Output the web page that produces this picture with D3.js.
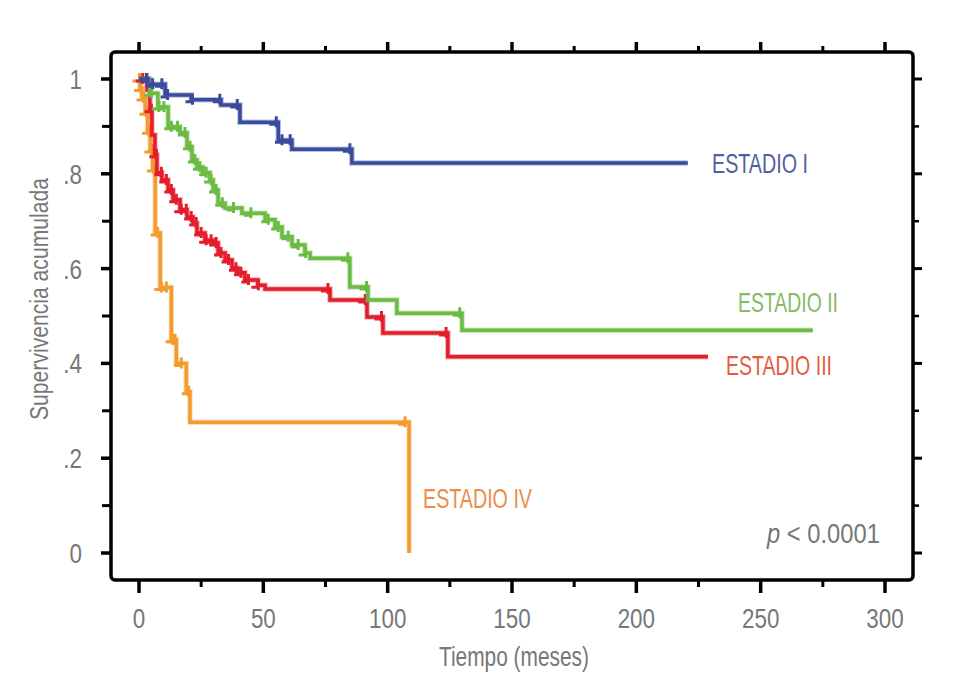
<!DOCTYPE html>
<html lang="es">
<head>
<meta charset="utf-8">
<title>Supervivencia acumulada por estadio</title>
<script src="https://cdn.jsdelivr.net/npm/d3@7/dist/d3.min.js"></script>
<style>
  body { margin: 0; background: #fff; }
  text { font-family: "Liberation Sans", Arial, sans-serif; }
</style>
</head>
<body>
<script>
// Datos (meses, supervivencia)
var xTicks = [0, 50, 100, 150, 200, 250, 300];
var yTicks = [0, 0.2, 0.4, 0.6, 0.8, 1];
var yTickLabels = ["0", ".2", ".4", ".6", ".8", "1"];

var est1Times = [0, 3.6, 10.5, 21, 33, 40.6, 56, 61.5, 85.6, 220.7];
var est1Surv  = [1, 0.989, 0.966, 0.956, 0.945, 0.909, 0.871, 0.852, 0.823, 0.823];
var est1Cens  = [3.2, 5.5, 9.2, 11.5, 21.5, 32.5, 39.5, 55.2, 57.5, 60.8, 84.8];

var est2Times = [0, 4.4, 7.6, 11.7, 16.5, 19.3, 21.3, 23.3, 25.7, 28.5, 29.8, 31.8, 34.6, 41.4, 50.7, 54.7, 57.5, 61.5, 66.7, 68.8, 84.8, 92.1, 103.7, 129.9, 271];
var est2Surv  = [1, 0.970, 0.941, 0.899, 0.886, 0.857, 0.829, 0.814, 0.802, 0.787, 0.766, 0.738, 0.728, 0.717, 0.703, 0.688, 0.667, 0.650, 0.633, 0.622, 0.561, 0.534, 0.506, 0.470, 0.470];
var est2Cens  = [5, 8, 10, 13, 15.5, 18.5, 20.5, 22.5, 24.5, 27, 29, 31, 33.5, 38, 45, 52, 56, 60, 64, 67, 84, 91.5, 129];

var est3Times = [0, 3.2, 4.4, 5.2, 6.4, 7.2, 9.2, 11.7, 13.7, 16.5, 19.3, 21.7, 23.3, 26.5, 29.8, 31.8, 34.6, 37.4, 39.8, 42.6, 47.8, 50.7, 76.8, 91.7, 98.1, 124.2, 228.8];
var est3Surv  = [1, 0.977, 0.935, 0.882, 0.840, 0.802, 0.787, 0.766, 0.745, 0.724, 0.709, 0.696, 0.675, 0.660, 0.654, 0.633, 0.618, 0.601, 0.591, 0.576, 0.565, 0.557, 0.534, 0.498, 0.464, 0.414, 0.414];
var est3Cens  = [1.5, 3, 5, 7, 9, 11, 13, 15, 17, 19, 21, 23, 25, 27, 29, 31, 33, 36, 39, 41, 44, 48, 76, 91, 97.5, 123.5];

var est4Times = [0, 0.4, 1.2, 2.5, 3.5, 4.5, 5.5, 6.5, 8.5, 13, 15, 19, 20.5, 108.6];
var est4Surv  = [1, 0.98, 0.96, 0.93, 0.89, 0.85, 0.81, 0.675, 0.56, 0.45, 0.40, 0.34, 0.276, 0];
var est4Cens  = [0.2, 0.8, 1.8, 3, 4, 5, 6, 7.5, 9, 11, 13.5, 14.5, 17, 20, 107];

var series = [
  { name: "ESTADIO I",   times: est1Times, surv: est1Surv, cens: est1Cens, color: "#3a4b9e", label: "#52609c" },
  { name: "ESTADIO II",  times: est2Times, surv: est2Surv, cens: est2Cens, color: "#6bbb45", label: "#85ba66" },
  { name: "ESTADIO III", times: est3Times, surv: est3Surv, cens: est3Cens, color: "#e31d2b", label: "#e25c42" },
  { name: "ESTADIO IV",  times: est4Times, surv: est4Surv, cens: est4Cens, color: "#f39c2e", label: "#ec8c4c" }
];

var width = 958, height = 695;
var frameL = 111, frameR = 913, frameT = 52, frameB = 580;

var svg = d3.select("body").append("svg")
  .attr("width", width)
  .attr("height", height);

svg.append("rect").attr("width", width).attr("height", height).attr("fill", "#fff");

var x = d3.scaleLinear().domain([0, 300]).range([139, 885]);
var y = d3.scaleLinear().domain([0, 1]).range([553, 79]);

// marco con esquinas redondeadas
svg.append("rect")
  .attr("x", frameL).attr("y", frameT)
  .attr("width", frameR - frameL).attr("height", frameB - frameT)
  .attr("rx", 4)
  .attr("fill", "none")
  .attr("stroke", "#000")
  .attr("stroke-width", 3.5);

// marcas del eje (mayores y menores)
var xMinor = d3.range(25, 300, 50);
var yMinor = d3.range(0.1, 1, 0.2);

function tickGroup(vals, fn, len, w) {
  svg.append("g").selectAll("line").data(vals).enter().append("line")
    .each(function (d) { fn(d3.select(this), d, len); })
    .attr("stroke", "#000")
    .attr("stroke-width", w);
}
tickGroup(xTicks, function (s, d, l) { s.attr("x1", x(d)).attr("x2", x(d)).attr("y1", frameB).attr("y2", frameB + l); }, 13, 3.5);
tickGroup(xMinor, function (s, d, l) { s.attr("x1", x(d)).attr("x2", x(d)).attr("y1", frameB).attr("y2", frameB + l); }, 7, 3);
tickGroup(xTicks, function (s, d, l) { s.attr("x1", x(d)).attr("x2", x(d)).attr("y1", frameT).attr("y2", frameT - l); }, 10, 3.5);
tickGroup(xMinor, function (s, d, l) { s.attr("x1", x(d)).attr("x2", x(d)).attr("y1", frameT).attr("y2", frameT - l); }, 6, 3);
tickGroup(yTicks, function (s, d, l) { s.attr("y1", y(d)).attr("y2", y(d)).attr("x1", frameL).attr("x2", frameL - l); }, 10, 3.5);
tickGroup(yMinor, function (s, d, l) { s.attr("y1", y(d)).attr("y2", y(d)).attr("x1", frameL).attr("x2", frameL - l); }, 9, 3);
tickGroup(yTicks, function (s, d, l) { s.attr("y1", y(d)).attr("y2", y(d)).attr("x1", frameR).attr("x2", frameR + l); }, 9, 3);
tickGroup(yMinor, function (s, d, l) { s.attr("y1", y(d)).attr("y2", y(d)).attr("x1", frameR).attr("x2", frameR + l); }, 6, 2.5);

// etiquetas de los ejes (tipografía estrechada)
svg.append("g").selectAll("text").data(xTicks).enter().append("text")
  .attr("transform", function (d) { return "translate(" + x(d) + ",628) scale(0.8,1)"; })
  .attr("text-anchor", "middle")
  .attr("font-size", 28)
  .attr("fill", "#777")
  .text(function (d) { return d; });

svg.append("g").selectAll("text").data(yTicks).enter().append("text")
  .attr("transform", function (d) { return "translate(82," + (y(d) + 10) + ") scale(0.8,1)"; })
  .attr("text-anchor", "end")
  .attr("font-size", 28)
  .attr("fill", "#777")
  .text(function (d, i) { return yTickLabels[i]; });

svg.append("text")
  .attr("x", 514).attr("y", 666)
  .attr("text-anchor", "middle")
  .attr("font-size", 27)
  .attr("textLength", 150)
  .attr("lengthAdjust", "spacingAndGlyphs")
  .attr("fill", "#777")
  .text("Tiempo (meses)");

svg.append("text")
  .attr("transform", "translate(48,299) rotate(-90)")
  .attr("text-anchor", "middle")
  .attr("font-size", 26)
  .attr("textLength", 242)
  .attr("lengthAdjust", "spacingAndGlyphs")
  .attr("fill", "#777")
  .text("Supervivencia acumulada");

// curvas de Kaplan-Meier
var line = d3.line()
  .x(function (d) { return x(d[0]); })
  .y(function (d) { return y(d[1]); })
  .curve(d3.curveStepAfter);

function survAt(s, t) {
  var v = s.surv[0];
  for (var i = 0; i < s.times.length; i++) { if (s.times[i] <= t) v = s.surv[i]; }
  return v;
}

var curves = svg.append("g");
series.slice().reverse().forEach(function (s) {
  var pts = s.times.map(function (t, i) { return [t, s.surv[i]]; });
  curves.append("path")
    .attr("d", line(pts))
    .attr("fill", "none")
    .attr("stroke", s.color)
    .attr("stroke-opacity", 0.35)
    .attr("stroke-width", 5.5);
  curves.append("path")
    .attr("d", line(pts))
    .attr("fill", "none")
    .attr("stroke", s.color)
    .attr("stroke-width", 3.5);
  curves.append("g").selectAll("path").data(s.cens).enter().append("path")
    .attr("d", function (t) {
      var cx = x(t), cy = y(survAt(s, t));
      return "M" + cx + "," + (cy - 6) + "V" + (cy + 5) + "M" + (cx - 7) + "," + (cy + 2) + "H" + cx;
    })
    .attr("fill", "none")
    .attr("stroke", s.color)
    .attr("stroke-width", 3);
});

// rótulos de las series
var labelPos = [
  { x: 712, y: 173, w: 96 },
  { x: 738, y: 312, w: 100 },
  { x: 726, y: 375, w: 106 },
  { x: 423, y: 508, w: 109 }
];
series.forEach(function (s, i) {
  svg.append("text")
    .attr("x", labelPos[i].x).attr("y", labelPos[i].y)
    .attr("font-size", 28)
    .attr("textLength", labelPos[i].w)
    .attr("lengthAdjust", "spacingAndGlyphs")
    .attr("fill", s.label)
    .text(s.name);
});

var pText = svg.append("text")
  .attr("x", 767).attr("y", 543)
  .attr("font-size", 27)
  .attr("textLength", 113)
  .attr("lengthAdjust", "spacingAndGlyphs")
  .attr("fill", "#777");
pText.append("tspan").attr("font-style", "italic").text("p");
pText.append("tspan").text(" < 0.0001");
</script>
</body>
</html>
